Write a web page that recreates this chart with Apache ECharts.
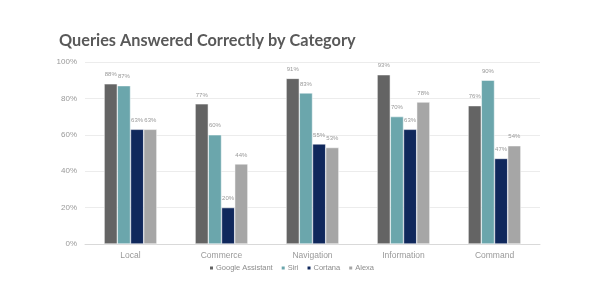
<!DOCTYPE html>
<html><head><meta charset="utf-8">
<script src="https://cdn.jsdelivr.net/npm/echarts@6/dist/echarts.min.js"></script>
<style>html,body{margin:0;padding:0;background:#fff}#c{width:600px;height:282px}</style>
</head><body><div id="c"></div>
<script>
const categories = ['Local', 'Commerce', 'Navigation', 'Information', 'Command'];
const googleAssistant = [88, 77, 91, 93, 76];
const siri = [87, 60, 83, 70, 90];
const cortana = [63, 20, 55, 63, 47];
const alexa = [63, 44, 53, 78, 54];
const seriesNames = ['Google Assistant', 'Siri', 'Cortana', 'Alexa'];
const colors = ['#646464', '#6ba6ac', '#10285c', '#a6a6a6'];
const valueSets = [googleAssistant, siri, cortana, alexa];

const chart = echarts.init(document.getElementById('c'));
chart.setOption({
  animation: false,
  title: {
    text: 'Queries Answered Correctly by Category',
    left: 54, top: 28,
    textStyle: { fontFamily: 'Lato', fontWeight: 'bold', fontSize: 16.3, color: '#595959' }
  },
  legend: {
    bottom: 5, left: 203,
    itemWidth: 5, itemHeight: 5, itemGap: 7,
    icon: 'rect',
    textStyle: { fontFamily: 'Liberation Sans', fontSize: 7.5, color: '#8c8c8c', padding: [0,0,0,-3] },
    data: seriesNames
  },
  grid: { left: 85, right: 60, top: 62, bottom: 38 },
  xAxis: {
    type: 'category', data: categories,
    axisLine: { lineStyle: { color: '#d9d9d9' } },
    axisTick: { show: false },
    axisLabel: { fontFamily: 'Liberation Sans', fontSize: 8.5, color: '#999999', margin: 7 }
  },
  yAxis: {
    type: 'value', min: 0, max: 100, interval: 20,
    axisLabel: { formatter: '{value}%', fontFamily: 'Liberation Sans', fontSize: 8, color: '#999999', margin: 8 },
    splitLine: { lineStyle: { color: '#ececec' } },
    axisLine: { show: false }, axisTick: { show: false }
  },
  series: seriesNames.map((n, i) => ({
    name: n, type: 'bar', data: valueSets[i],
    barGap: '0%', barCategoryGap: '42%',
    itemStyle: { color: colors[i], borderColor: '#ffffff', borderWidth: 0.5 },
    label: { show: true, position: 'top', formatter: '{c}%', fontFamily: 'Liberation Sans', fontSize: 6, color: '#999999', distance: 6 }
  }))
});
</script></body></html>
